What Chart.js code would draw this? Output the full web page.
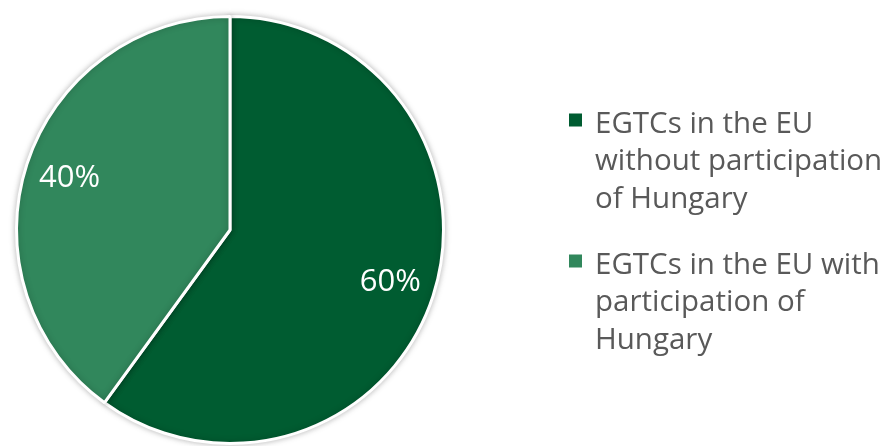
<!DOCTYPE html>
<html>
<head>
<meta charset="utf-8">
<script src="https://cdn.jsdelivr.net/npm/chart.js@4/dist/chart.umd.min.js"></script>
<style>
  html, body { margin: 0; padding: 0; background: #fff; }
  #wrap { position: relative; width: 893px; height: 446px; }
</style>
</head>
<body>
<div id="wrap"><canvas id="pieChart" width="893" height="446"></canvas></div>
<script>
// Share of EGTCs with / without Hungarian participation
const categories = [
    'EGTCs in the EU without participation of Hungary',
    'EGTCs in the EU with participation of Hungary'
];
const legendLines = [
    ['EGTCs in the EU', 'without participation', 'of Hungary'],
    ['EGTCs in the EU with', 'participation of', 'Hungary']
];
const shares = [60, 40];
const sliceColors = ['#005C31', '#31875C'];

const FONT = '"Open Sans", "Noto Sans", sans-serif';

// soft grey halo under the pie
const pieShadow = {
    id: 'pieShadow',
    beforeDatasetsDraw(chart) {
        const ctx = chart.ctx;
        ctx.save();
        ctx.shadowColor = 'rgba(0, 0, 0, 0.25)';
        ctx.shadowBlur = 6;
    },
    afterDatasetsDraw(chart) {
        chart.ctx.restore();
    }
};

// percentage labels inside each slice
const sliceLabels = {
    id: 'sliceLabels',
    afterDatasetsDraw(chart) {
        const ctx = chart.ctx;
        const meta = chart.getDatasetMeta(0);
        const total = shares.reduce((a, b) => a + b, 0);
        ctx.save();
        ctx.fillStyle = '#ffffff';
        ctx.font = '31px ' + FONT;
        ctx.textAlign = 'center';
        ctx.textBaseline = 'middle';
        meta.data.forEach((arc, i) => {
            const p = arc.getProps(['x', 'y', 'startAngle', 'endAngle', 'outerRadius']);
            const mid = (p.startAngle + p.endAngle) / 2;
            const r = p.outerRadius * 0.79;
            const pct = Math.round(shares[i] / total * 100) + '%';
            ctx.fillText(pct, p.x + Math.cos(mid) * r, p.y + Math.sin(mid) * r);
        });
        ctx.restore();
    }
};

// wrapped legend on the right
const sideLegend = {
    id: 'sideLegend',
    afterDraw(chart) {
        const ctx = chart.ctx;
        const x0 = 569, textX = 595, lineH = 37.5, itemGap = 28.5;
        let baseline = 132.5;
        ctx.save();
        ctx.font = '29.5px ' + FONT;
        ctx.textBaseline = 'alphabetic';
        ctx.textAlign = 'left';
        legendLines.forEach((lines, i) => {
            ctx.fillStyle = sliceColors[i];
            ctx.fillRect(x0, baseline - 19, 13, 13);
            ctx.fillStyle = '#595959';
            lines.forEach((ln, j) => {
                ctx.fillText(ln, textX, baseline + j * lineH);
            });
            baseline += lines.length * lineH + itemGap;
        });
        ctx.restore();
    }
};

new Chart(document.getElementById('pieChart'), {
    type: 'pie',
    data: {
        labels: categories,
        datasets: [{
            data: shares,
            backgroundColor: sliceColors,
            borderColor: '#ffffff',
            borderWidth: 3
        }]
    },
    options: {
        responsive: false,
        animation: false,
        layout: { padding: { top: 15, bottom: 1, left: 15, right: 448 } },
        plugins: {
            legend: { display: false },
            tooltip: { enabled: false }
        }
    },
    plugins: [pieShadow, sliceLabels, sideLegend]
});
</script>
</body>
</html>
